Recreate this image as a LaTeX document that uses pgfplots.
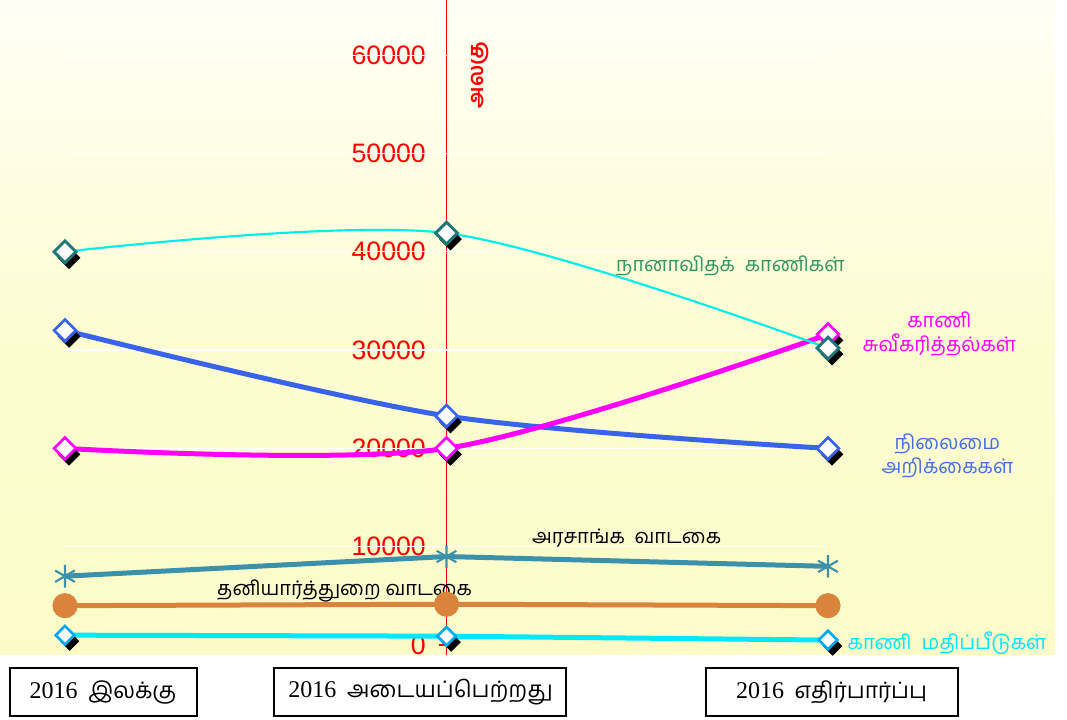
\documentclass[border=0pt]{standalone}
\usepackage{fontspec}
\setmainfont{Liberation Sans}
\newfontfamily\tamil[Script=Tamil]{Hind Madurai}
\newfontfamily\tserif{Liberation Serif}
\usepackage{pgfplots}
\pgfplotsset{compat=1.18}
\definecolor{cyanl}{RGB}{0,238,238}
\definecolor{tealm}{RGB}{30,120,120}
\definecolor{magl}{RGB}{255,0,255}
\definecolor{bluel}{RGB}{55,100,235}
\definecolor{bluet}{RGB}{70,110,230}
\definecolor{govl}{RGB}{60,145,170}
\definecolor{orl}{RGB}{217,132,58}
\definecolor{vall}{RGB}{0,232,250}
\definecolor{valm}{RGB}{0,170,240}
\definecolor{greent}{RGB}{50,150,100}
\definecolor{bgtop}{RGB}{255,255,246}
\definecolor{bgmid}{RGB}{253,252,210}
\definecolor{bgbot}{RGB}{252,251,200}
\begin{document}
\begin{tikzpicture}
\path[use as bounding box] (0,0) rectangle (800.25pt,540pt);
\begin{axis}[
  at={(0pt,48.75pt)}, anchor=south west,
  scale only axis, width=791.25pt, height=491.25pt,
  xmin=-1.1704, xmax=1.595, ymin=-1017, ymax=65615,
  axis x line=none,
  axis y line=center,
  y axis line style={red, line width=1pt, -},
  ytick={0,10000,...,60000},
  scaled y ticks=false,
  ytick style={red, line width=1pt},
  major tick length=12pt, tick align=center,
  /pgf/number format/assume math mode=true,
  /pgf/number format/1000 sep={},
  yticklabel style={text=red, font=\fontsize{20}{20}\selectfont, anchor=east, xshift=-6pt},
  clip=false,
  axis background/.style={top color=bgtop, bottom color=bgbot, middle color=bgmid},
]
\pgfplotsinvokeforeach{10000,20000,30000,40000,50000,60000}{
  \draw[white, line width=1pt] (axis cs:-1,#1) -- (axis cs:1,#1);
}
% shadows
\addplot[only marks, mark=square*, mark size=5.8pt, mark options={xshift=3pt, yshift=-4.5pt, rotate=45, fill=black, draw=black}]
  coordinates {(-1,40000)(0,41900)(1,30200)(-1,20000)(0,20000)(1,31600)(-1,32000)(0,23300)(1,20000)};
\addplot[only marks, mark=square*, mark size=4.9pt, mark options={xshift=3.5pt, yshift=-4.5pt, rotate=45, fill=black, draw=black}]
  coordinates {(-1,1000)(0,900)(1,500)};
% status reports
\addplot[bluel, line width=3.75pt, smooth, mark=square*, mark size=5.8pt, mark options={rotate=45, fill=white, draw=bluel, line width=2pt}]
  coordinates {(-1,32000)(0,23300)(1,20000)};
% acquisitions
\addplot[magl, line width=3.75pt, smooth, mark=square*, mark size=5.8pt, mark options={rotate=45, fill=white, draw=magl, line width=2pt}]
  coordinates {(-1,20000)(0,20000)(1,31600)};
% misc lands
\addplot[cyanl, line width=1.6pt, smooth, mark=square*, mark size=5.8pt, mark options={rotate=45, fill=white, draw=tealm, line width=2.2pt}]
  coordinates {(-1,40000)(0,41900)(1,30200)};
% government rental
\addplot[govl, line width=3.75pt, mark=asterisk, mark size=8.5pt, mark options={line width=1.6pt}]
  coordinates {(-1,7000)(0,9000)(1,8000)};
% private rental
\addplot[orl, line width=3.75pt, mark=*, mark size=7.5pt, mark options={fill=orl, draw=orl}]
  coordinates {(-1,4000)(0,4150)(1,4000)};
% valuations
\addplot[vall, line width=3.75pt, mark=square*, mark size=4.9pt, mark options={rotate=45, fill=white, draw=valm, line width=2pt}]
  coordinates {(-1,1000)(0,900)(1,500)};
% labels
\node[text=greent, font=\tamil\fontsize{15}{18}\selectfont] at (axis cs:0.744,38555) {நானாவிதக்~~காணிகள்};
\node[text=magl, align=center, font=\tamil\fontsize{15}{18}\selectfont] at (axis cs:1.292,31640) {காணி\\சுவீகரித்தல்கள்};
\node[text=bluet, align=center, font=\tamil\fontsize{15}{18}\selectfont] at (axis cs:1.313,19227) {நிலைமை\\அறிக்கைகள்};
\node[text=black, font=\tamil\fontsize{15}{18}\selectfont] at (axis cs:0.472,10885) {அரசாங்க~~வாடகை};
\node[text=black, font=\tamil\fontsize{15}{18}\selectfont] at (axis cs:-0.267,5493) {தனியார்த்துறை~வாடகை};
\node[text=vall, anchor=west, inner sep=0pt, font=\tamil\fontsize{15}{18}\selectfont] at (axis cs:1.051,203) {காணி~~மதிப்பீடுகள்};
\node[text=red, rotate=90, font=\tamil\bfseries\fontsize{16}{18}\selectfont] at (axis cs:0.087,58000) {அலகு};
% category boxes
\node[draw=black, line width=1.5pt, fill=white, minimum width=140.25pt, minimum height=36pt, inner sep=0pt] at (axis cs:-0.9004,-4781) {{\tserif\fontsize{18}{20}\selectfont 2016}\hspace{8pt}{\tamil\fontsize{17}{20}\selectfont இலக்கு}};
\node[draw=black, line width=1.5pt, fill=white, minimum width=219pt, minimum height=36pt, inner sep=0pt] at (axis cs:-0.0682,-4781) {{\tserif\fontsize{18}{20}\selectfont 2016}\hspace{8pt}{\tamil\fontsize{17}{20}\selectfont அடையப்பெற்றது}};
\node[draw=black, line width=1.5pt, fill=white, minimum width=189pt, minimum height=36pt, inner sep=0pt] at (axis cs:1.0092,-4781) {{\tserif\fontsize{18}{20}\selectfont 2016}\hspace{8pt}{\tamil\fontsize{17}{20}\selectfont எதிர்பார்ப்பு}};
\end{axis}
\end{tikzpicture}
\end{document}
